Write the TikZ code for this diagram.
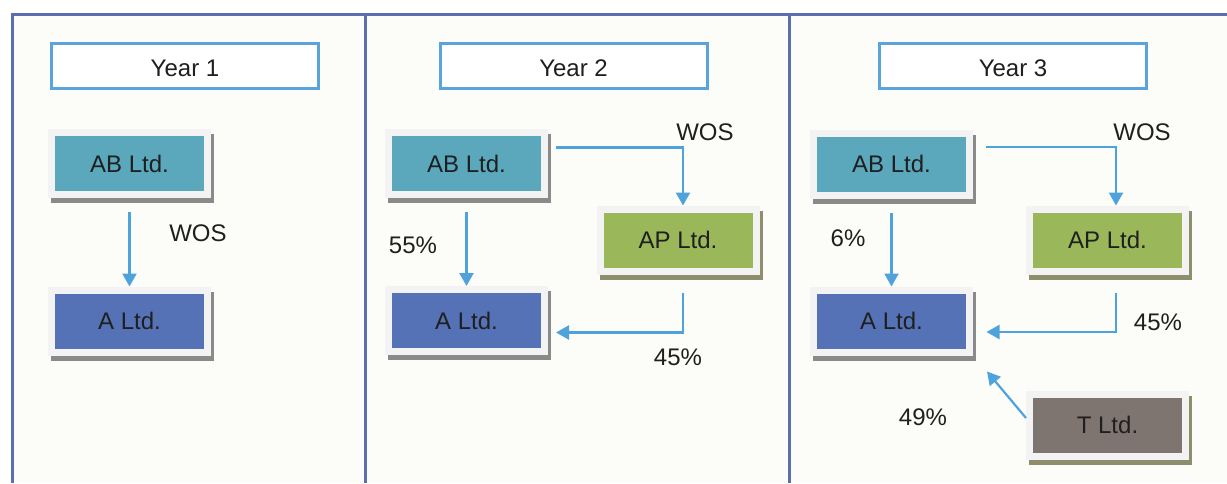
\documentclass[tikz,border=0pt]{standalone}
\usepackage{fontspec}
\setmainfont{Liberation Sans}
\usetikzlibrary{arrows.meta,shadows}
\definecolor{rule}{HTML}{5B6FAE}
\definecolor{paper}{HTML}{FCFCF8}
\definecolor{titleblue}{HTML}{5BA4DB}
\definecolor{linkblue}{HTML}{4FA3DC}
\definecolor{rim}{HTML}{F3F3F3}
\definecolor{abfill}{HTML}{5BA8BD}
\definecolor{afill}{HTML}{5672B6}
\definecolor{apfill}{HTML}{9AB75A}
\definecolor{tfill}{HTML}{7F7570}
\definecolor{greyedge}{HTML}{8A8A8A}
\definecolor{oliveedge}{HTML}{8F8E6C}
\tikzstyle{yr}=[rectangle,draw=titleblue,line width=1.5pt,fill=white,minimum width=133.5pt,minimum height=22.5pt,text height=10.5pt,text depth=0pt]
\tikzstyle{firm}=[rectangle,draw=rim,line width=3.5pt,minimum width=78pt,minimum height=31pt,inner sep=0pt]
\tikzstyle{greyshadow}=[general shadow={fill=greyedge,draw=greyedge,line width=3.5pt,shadow xshift=1.5pt,shadow yshift=-2.5pt}]
\tikzstyle{oliveshadow}=[general shadow={fill=oliveedge,draw=oliveedge,line width=3.5pt,shadow xshift=1.5pt,shadow yshift=-2.5pt}]
\tikzstyle{link}=[draw=linkblue,line width=1.1pt,-{Triangle[width=7pt,length=6.5pt]}]
\tikzstyle{lbl}=[inner sep=0pt]

\begin{document}
\begin{tikzpicture}[x=0.5pt,y=-0.5pt,font=\fontsize{12}{14}\selectfont,text=black!88]
\useasboundingbox (0,0) rectangle (1227,483);
\fill[paper] (12,14) rectangle (1227,483);
\draw[rule,line width=1.5pt] (12,483) -- (12,14) -- (1227,14);
\draw[rule,line width=1.5pt] (365,14) -- (365,483);
\draw[rule,line width=1.5pt] (789,14) -- (789,483);
% year 1
\node[yr] (yr1) at (185,65.5) {Year 1};
\node[firm,greyshadow,fill=abfill] (ab1) at (129.5,163.5) {AB Ltd.};
\node[firm,greyshadow,fill=afill] (a1) at (129.5,321) {A Ltd.};
\node[lbl] (wos1) at (198,233) {WOS};
\draw[link,shorten <=7pt] (ab1) -- (a1);
% year 2
\node[yr] (yr2) at (573.5,65.5) {Year 2};
\node[firm,greyshadow,fill=abfill] (ab2) at (466.5,163.5) {AB Ltd.};
\node[firm,greyshadow,fill=afill] (a2) at (466.5,320.5) {A Ltd.};
\node[firm,oliveshadow,fill=apfill] (ap2) at (678,240) {AP Ltd.};
\node[lbl] (wos2) at (705,132) {WOS};
\node[lbl] (p55) at (413,245) {55\%};
\node[lbl] (p45a) at (678,357) {45\%};
\draw[link,shorten <=7pt] (ab2) -- (a2);
\draw[link] ([xshift=4pt,yshift=8pt]ab2.east) -| ([xshift=2.5pt]ap2.north);
\draw[link,shorten <=9pt] ([xshift=2.5pt]ap2.south) |- ([xshift=4pt,yshift=-6pt]a2.east);
% year 3
\node[yr] (yr3) at (1013,65.5) {Year 3};
\node[firm,greyshadow,fill=abfill] (ab3) at (891.5,164) {AB Ltd.};
\node[firm,greyshadow,fill=afill] (a3) at (891.5,321) {A Ltd.};
\node[firm,oliveshadow,fill=apfill] (ap3) at (1107.5,240) {AP Ltd.};
\node[firm,oliveshadow,fill=tfill] (t3) at (1107.5,425) {T Ltd.};
\node[lbl] (wos3) at (1142,132) {WOS};
\node[lbl] (p6) at (848,238) {6\%};
\node[lbl] (p45b) at (1158,322) {45\%};
\node[lbl] (p49) at (923,417) {49\%};
\draw[link,shorten <=7pt] (ab3) -- (a3);
\draw[link] ([xshift=6.25pt,yshift=8.5pt]ab3.east) -| ([xshift=4.25pt]ap3.north);
\draw[link,shorten <=9pt] ([xshift=4.25pt]ap3.south) |- ([xshift=6.75pt,yshift=-5.5pt]a3.east);
\draw[link] ([yshift=3.5pt]t3.west) -- ([xshift=7pt,yshift=-8pt]a3.south east);
\end{tikzpicture}
\end{document}
